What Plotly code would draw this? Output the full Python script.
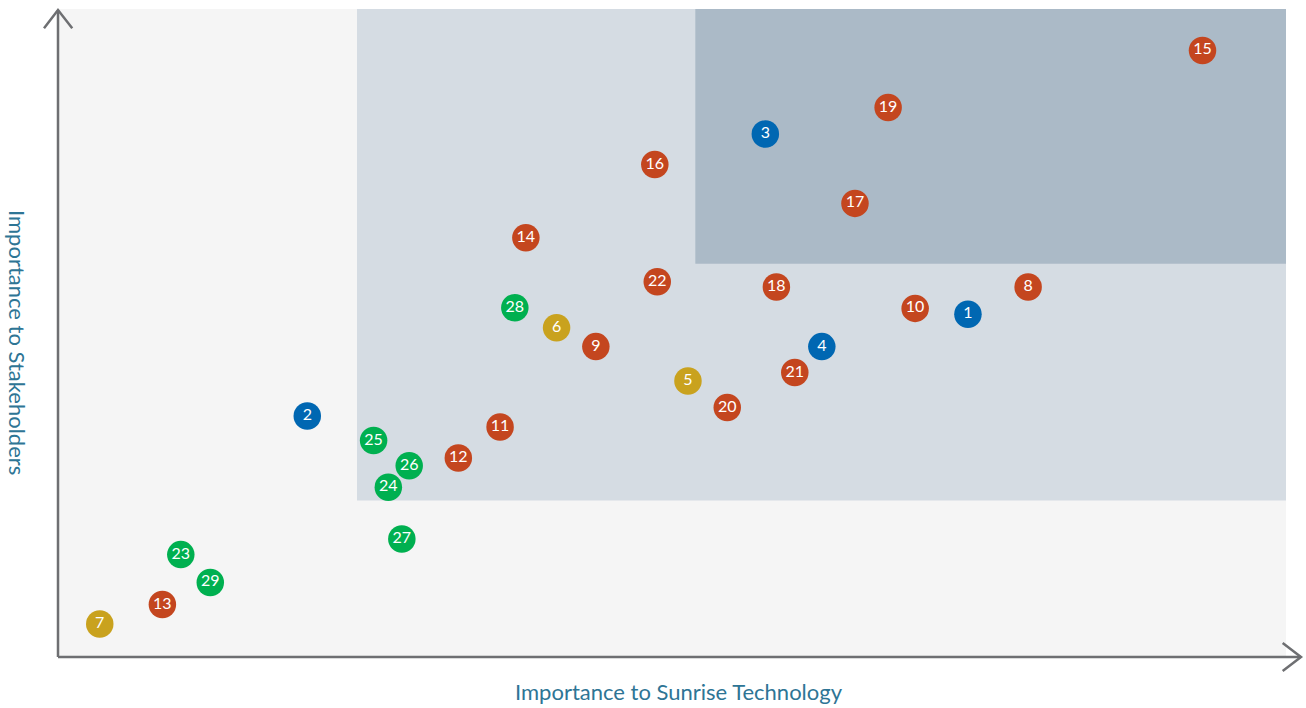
import plotly.graph_objects as go

# ---- data (0-100 importance scales) ----
labels = [str(i) for i in range(1, 30)]
importance_company = [74.1, 20.3, 57.6, 62.2, 51.3, 40.6, 3.4, 79.0, 43.8, 69.8,
                      36.0, 32.6, 8.5, 38.1, 93.2, 48.6, 64.9, 58.5, 67.6, 54.5,
                      60.0, 48.8, 10.0, 26.9, 25.7, 28.6, 28.0, 37.2, 12.4]
importance_stakeholders = [52.9, 37.2, 80.7, 47.9, 42.6, 50.8, 5.1, 57.1, 47.9, 53.8,
                           35.5, 30.7, 8.1, 64.7, 93.6, 76.0, 70.0, 57.1, 84.8, 38.5,
                           43.9, 57.9, 15.8, 26.2, 33.4, 29.5, 18.2, 53.9, 11.5]
groups = ["blue", "blue", "blue", "blue", "gold", "gold", "gold", "red", "red", "red",
          "red", "red", "red", "red", "red", "red", "red", "red", "red", "red",
          "red", "red", "green", "green", "green", "green", "green", "green", "green"]
group_order = ["blue", "gold", "red", "green"]
group_colors = {"blue": "#0067b2", "gold": "#c9a21e", "red": "#c4461f", "green": "#00b050"}

# materiality thresholds
mid_x, mid_y = 24.35, 24.15
high_x, high_y = 51.9, 60.7

AXIS_COLOR = "#6e6f72"
TITLE_COLOR = "#2e7595"

fig = go.Figure()
for g in group_order:
    idx = [i for i, gg in enumerate(groups) if gg == g]
    fig.add_trace(go.Scatter(
        x=[importance_company[i] for i in idx],
        y=[importance_stakeholders[i] for i in idx],
        text=[labels[i] for i in idx],
        mode="markers+text",
        textposition="middle center",
        textfont=dict(family="Lato", size=16, color="white"),
        marker=dict(size=27.5, color=group_colors[g], line=dict(width=0)),
        cliponaxis=False,
        hoverinfo="skip",
        showlegend=False,
    ))

shapes = [
    dict(type="rect", xref="x", yref="y", x0=0, x1=100, y0=0, y1=100,
         fillcolor="#f5f5f5", line=dict(width=0), layer="below"),
    dict(type="rect", xref="x", yref="y", x0=mid_x, x1=100, y0=mid_y, y1=100,
         fillcolor="#d5dce3", line=dict(width=0), layer="below"),
    dict(type="rect", xref="x", yref="y", x0=high_x, x1=100, y0=high_y, y1=100,
         fillcolor="#abbac7", line=dict(width=0), layer="below"),
    # axis lines with open arrow heads
    dict(type="line", xref="paper", yref="paper", x0=0, y0=0, x1=1.0122, y1=0,
         line=dict(color=AXIS_COLOR, width=2.5)),
    dict(type="line", xref="paper", yref="paper", x0=0, y0=0, x1=0, y1=0.9985,
         line=dict(color=AXIS_COLOR, width=2.5)),
    dict(type="path", xref="paper", yref="paper",
         path="M 0.9973 0.0216 L 1.0122 0 L 0.9973 -0.0216",
         line=dict(color=AXIS_COLOR, width=2.5)),
    dict(type="path", xref="paper", yref="paper",
         path="M -0.0114 0.9702 L 0 0.9985 L 0.0116 0.9702",
         line=dict(color=AXIS_COLOR, width=2.5)),
]

annotations = [
    dict(text="Importance to Sunrise Technology", xref="paper", yref="paper",
         x=0.5057, y=-0.0525, xanchor="center", yanchor="middle", showarrow=False,
         font=dict(family="Lato", size=22, color=TITLE_COLOR)),
    dict(text="Importance to Stakeholders", xref="paper", yref="paper",
         x=-0.0334, y=0.4846, xanchor="center", yanchor="middle", showarrow=False,
         textangle=90, font=dict(family="Lato", size=22, color=TITLE_COLOR)),
]

fig.update_layout(
    width=1306, height=708,
    margin=dict(l=58, r=20, t=9, b=51),
    paper_bgcolor="white", plot_bgcolor="white",
    xaxis=dict(range=[0, 100], showgrid=False, zeroline=False, showticklabels=False,
               showline=False, ticks="", fixedrange=True),
    yaxis=dict(range=[0, 100], showgrid=False, zeroline=False, showticklabels=False,
               showline=False, ticks="", fixedrange=True),
    shapes=shapes,
    annotations=annotations,
    hovermode=False,
)

fig.write_html("out.html", config={"displayModeBar": False})

# remove the default page margin so the figure sits at the window's top-left corner
with open("out.html", "r", encoding="utf-8") as f:
    html = f.read()
html = html.replace("<head>", "<head><style>html,body{margin:0;padding:0;overflow:hidden;}</style>", 1)
with open("out.html", "w", encoding="utf-8") as f:
    f.write(html)
